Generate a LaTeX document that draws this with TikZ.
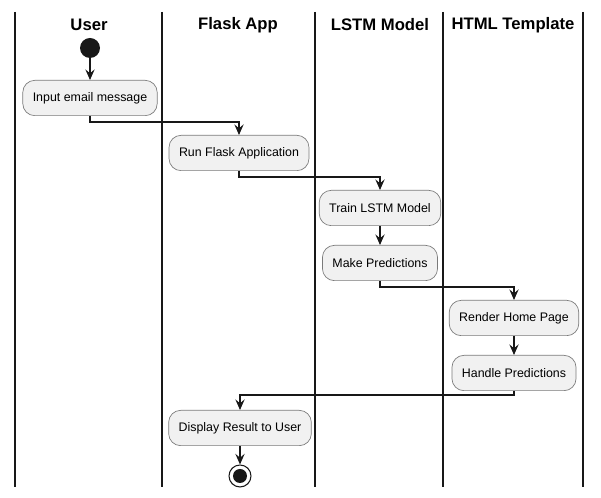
\documentclass[tikz,border=0pt]{standalone}
\usepackage{fontspec}
\setmainfont{Liberation Sans}
\usetikzlibrary{arrows.meta}
\definecolor{boxfill}{HTML}{F1F1F1}
\definecolor{boxline}{HTML}{7A7A7A}
\definecolor{ink}{HTML}{181818}
\begin{document}
\begin{tikzpicture}[x=0.75pt,y=-0.75pt,
  lane/.style={line width=1.5pt,draw=ink},
  head/.style={font=\bfseries\fontsize{12.5}{15}\selectfont},
  act/.style={draw=boxline,fill=boxfill,rounded corners=9pt,line width=0.5pt,
    font=\fontsize{9.3}{11}\selectfont,inner xsep=7.5pt,minimum height=26.5pt},
  flow/.style={draw=ink,line width=0.8pt,-{Stealth[length=8pt,width=7pt,inset=3pt]}},
]
\useasboundingbox (0,0) rectangle (601,498);
% swimlanes
\foreach \x/\n in {15/l0,162/l1,315/l2,443/l3,583/l4}{
  \draw[lane] (\x,12) -- (\x,487);
}
\node[head] (hU) at (89,25) {User};
\node[head] (hF) at (238,25) {Flask App};
\node[head] (hL) at (380,25) {LSTM Model};
\node[head] (hH) at (513,25) {HTML Template};
% nodes
\node[circle,fill=ink,minimum size=15pt,inner sep=0pt] (start) at (90,48) {};
\node[act] (input) at (90,98) {Input email message};
\node[act] (run) at (239,153) {Run Flask Application};
\node[act] (train) at (380,208) {Train LSTM Model};
\node[act] (make) at (380,263) {Make Predictions};
\node[act] (render) at (514,318) {Render Home Page};
\node[act] (handle) at (514,373) {Handle Predictions};
\node[act] (display) at (240,428) {Display Result to User};
\node[circle,draw=ink,line width=0.8pt,fill=white,minimum size=16.5pt,inner sep=0pt] (end) at (240,476) {};
\node[circle,fill=ink,minimum size=10.5pt,inner sep=0pt] (endin) at (end.center) {};
% flows
\draw[flow] (start) -- (input);
\draw[flow] (input.south) |- (239,122) -| (run.north);
\draw[flow] (run.south) |- (380,177) -| (train.north);
\draw[flow] (train) -- (make);
\draw[flow] (make.south) |- (514,287) -| (render.north);
\draw[flow] (render) -- (handle);
\draw[flow] (handle.south) |- (240,395) -| (display.north);
\draw[flow] (display) -- (end);
\end{tikzpicture}
\end{document}
